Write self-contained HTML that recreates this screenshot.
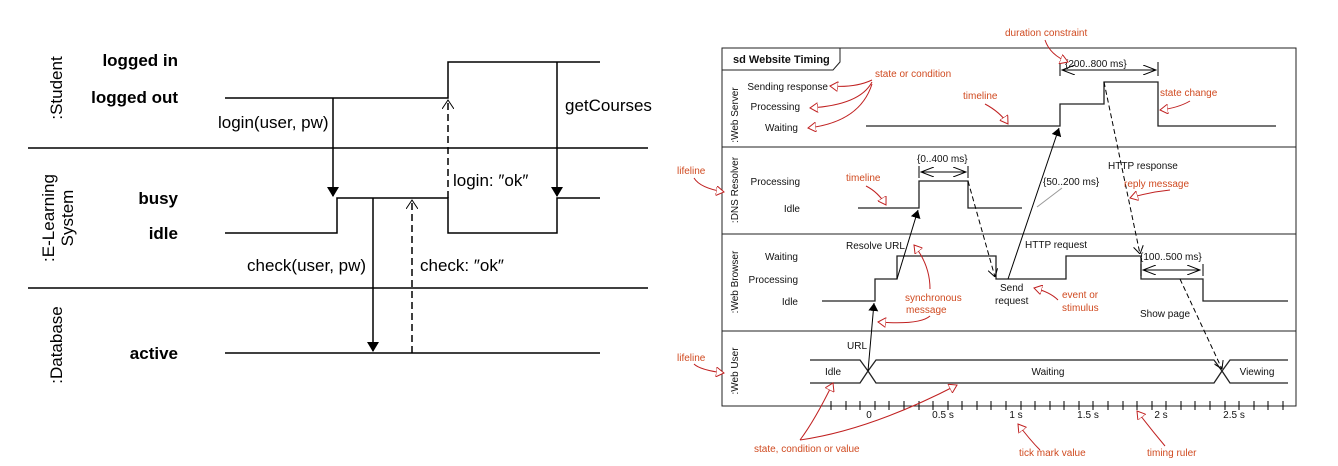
<!DOCTYPE html>
<html><head><meta charset="utf-8"><style>
html,body{margin:0;padding:0;background:#fff;}
svg{display:block;font-family:"Liberation Sans",sans-serif;}
</style></head><body>
<svg width="1338" height="466" viewBox="0 0 1338 466" xmlns="http://www.w3.org/2000/svg">
<defs>
<marker id="fa" markerWidth="10" markerHeight="14" refX="9" refY="7" orient="auto" markerUnits="userSpaceOnUse"><path d="M0,1 L10,7 L0,13 z" fill="#000"/></marker>
<marker id="oa" markerWidth="10" markerHeight="12" refX="9" refY="6" orient="auto" markerUnits="userSpaceOnUse"><path d="M0,0 L9,6 L0,12" fill="none" stroke="#000" stroke-width="1"/></marker>
<marker id="sfa" markerWidth="8" markerHeight="10" refX="8" refY="5" orient="auto" markerUnits="userSpaceOnUse"><path d="M0,0 L8,5 L0,10 z" fill="#000"/></marker>
<marker id="soa" markerWidth="8" markerHeight="10" refX="8" refY="5" orient="auto" markerUnits="userSpaceOnUse"><path d="M0,0 L8,5 L0,10" fill="none" stroke="#000" stroke-width="1"/></marker>
<marker id="ra" markerWidth="9" markerHeight="10" refX="8" refY="5" orient="auto" markerUnits="userSpaceOnUse"><path d="M0,0 L8,5 L0,10 z" fill="#fff" stroke="#c02020" stroke-width="1"/></marker>
<marker id="dim" markerWidth="14" markerHeight="10" refX="13" refY="5" orient="auto-start-reverse" markerUnits="userSpaceOnUse"><path d="M0,0 L13,5 L0,10" fill="none" stroke="#000" stroke-width="1"/></marker>
</defs>

<!-- LEFT DIAGRAM -->
<g stroke="#000" stroke-width="1.5" fill="none">
<line x1="28" y1="148" x2="648" y2="148"/>
<line x1="28" y1="288" x2="648" y2="288"/>
<polyline points="225,98 448,98 448,62 600,62"/>
<polyline points="225,233 337,233 337,198 448,198 448,233 557,233 557,198 600,198"/>
<line x1="225" y1="353" x2="600" y2="353"/>
<line x1="333" y1="98" x2="333" y2="196" marker-end="url(#fa)"/>
<line x1="373" y1="198" x2="373" y2="351" marker-end="url(#fa)"/>
<line x1="557" y1="62" x2="557" y2="196" marker-end="url(#fa)"/>
<line x1="412" y1="353" x2="412" y2="200" stroke-dasharray="7,4" marker-end="url(#oa)"/>
<line x1="448" y1="198" x2="448" y2="100" stroke-dasharray="7,4" marker-end="url(#oa)"/>
</g>
<g font-size="17" fill="#000">
<text transform="translate(62,88) rotate(-90)" text-anchor="middle">:Student</text>
<text transform="translate(54,218) rotate(-90)" text-anchor="middle">:E-Learning</text>
<text transform="translate(73,218) rotate(-90)" text-anchor="middle">System</text>
<text transform="translate(62,345) rotate(-90)" text-anchor="middle">:Database</text>
<g font-weight="bold" text-anchor="end">
<text x="178" y="66">logged in</text>
<text x="178" y="103">logged out</text>
<text x="178" y="204">busy</text>
<text x="178" y="239">idle</text>
<text x="178" y="359">active</text>
</g>
<text x="218" y="128">login(user, pw)</text>
<text x="247" y="271">check(user, pw)</text>
<text x="420" y="271">check: ″ok″</text>
<text x="453" y="186">login: ″ok″</text>
<text x="565" y="111">getCourses</text>
</g>

<!-- RIGHT DIAGRAM -->
<g stroke="#222" stroke-width="1" fill="none">
<rect x="722" y="48" width="574" height="358"/>
<line x1="722" y1="147" x2="1296" y2="147"/>
<line x1="722" y1="234" x2="1296" y2="234"/>
<line x1="722" y1="331" x2="1296" y2="331"/>
<polyline points="722,70 833,70 840,62 840,48"/>
</g>
<g stroke="#222" stroke-width="1.3" fill="none">
<polyline points="866,126 1060,126 1060,104 1104,104 1104,82 1158,82 1158,126 1276,126"/>
<polyline points="858,208 919,208 919,181 968,181 968,208 1022,208"/>
<polyline points="822,301 875,301 875,279 897,279 897,256 996,256 996,279 1066,279 1066,256 1141,256 1141,279 1203,279 1203,301 1288,301"/>
<polyline points="810,360 860,360 868,371 860,383 810,383"/>
<polyline points="868,371 876,360 1214,360 1222,371 1214,383 876,383 868,371"/>
<polyline points="1288,360 1230,360 1222,371 1230,383 1288,383"/>
</g>
<g stroke="#000" stroke-width="1" fill="none">
<line x1="868" y1="371" x2="874" y2="303" marker-end="url(#sfa)"/>
<line x1="897" y1="279" x2="918" y2="210" marker-end="url(#sfa)"/>
<line x1="1008" y1="279" x2="1059" y2="128" marker-end="url(#sfa)"/>
<line x1="968" y1="181" x2="995" y2="277" stroke-dasharray="5,3" marker-end="url(#soa)"/>
<line x1="1104" y1="82" x2="1140" y2="254" stroke-dasharray="5,3" marker-end="url(#soa)"/>
<line x1="1180" y1="279" x2="1222" y2="369" stroke-dasharray="5,3" marker-end="url(#soa)"/>
<line x1="1062" y1="70" x2="1156" y2="70" marker-start="url(#dim)" marker-end="url(#dim)"/>
<line x1="921" y1="172" x2="966" y2="172" marker-start="url(#dim)" marker-end="url(#dim)"/>
<line x1="1143" y1="270" x2="1200" y2="270" marker-start="url(#dim)" marker-end="url(#dim)"/>
<line x1="1060" y1="62" x2="1060" y2="76"/><line x1="1158" y1="62" x2="1158" y2="76"/>
<line x1="919" y1="166" x2="919" y2="178"/><line x1="968" y1="166" x2="968" y2="178"/>
<line x1="1141" y1="264" x2="1141" y2="276"/><line x1="1203" y1="264" x2="1203" y2="276"/>
<line x1="1037" y1="207" x2="1062" y2="188" stroke="#999"/>
</g>
<g stroke="#000" stroke-width="1">
<line x1="831" y1="401" x2="831" y2="410"/><line x1="846" y1="401" x2="846" y2="410"/><line x1="860" y1="401" x2="860" y2="410"/>
<line x1="875" y1="401" x2="875" y2="410"/><line x1="889" y1="401" x2="889" y2="410"/><line x1="904" y1="401" x2="904" y2="410"/>
<line x1="919" y1="401" x2="919" y2="410"/><line x1="933" y1="401" x2="933" y2="410"/><line x1="948" y1="401" x2="948" y2="410"/>
<line x1="962" y1="401" x2="962" y2="410"/><line x1="977" y1="401" x2="977" y2="410"/><line x1="991" y1="401" x2="991" y2="410"/>
<line x1="1006" y1="401" x2="1006" y2="410"/><line x1="1021" y1="401" x2="1021" y2="410"/><line x1="1035" y1="401" x2="1035" y2="410"/>
<line x1="1050" y1="401" x2="1050" y2="410"/><line x1="1064" y1="401" x2="1064" y2="410"/><line x1="1079" y1="401" x2="1079" y2="410"/>
<line x1="1093" y1="401" x2="1093" y2="410"/><line x1="1108" y1="401" x2="1108" y2="410"/><line x1="1123" y1="401" x2="1123" y2="410"/>
<line x1="1137" y1="401" x2="1137" y2="410"/><line x1="1152" y1="401" x2="1152" y2="410"/><line x1="1166" y1="401" x2="1166" y2="410"/>
<line x1="1181" y1="401" x2="1181" y2="410"/><line x1="1195" y1="401" x2="1195" y2="410"/><line x1="1210" y1="401" x2="1210" y2="410"/>
<line x1="1225" y1="401" x2="1225" y2="410"/><line x1="1239" y1="401" x2="1239" y2="410"/><line x1="1254" y1="401" x2="1254" y2="410"/>
<line x1="1268" y1="401" x2="1268" y2="410"/><line x1="1283" y1="401" x2="1283" y2="410"/>
</g>
<g font-size="10" fill="#111">
<text x="733" y="63" font-weight="bold" font-size="11">sd Website Timing</text>
<text transform="translate(738,115) rotate(-90)" text-anchor="middle">:Web Server</text>
<text transform="translate(738,190) rotate(-90)" text-anchor="middle">:DNS Resolver</text>
<text transform="translate(738,282) rotate(-90)" text-anchor="middle">:Web Browser</text>
<text transform="translate(738,371) rotate(-90)" text-anchor="middle">:Web User</text>
<g text-anchor="end">
<text x="828" y="90">Sending response</text>
<text x="800" y="110">Processing</text>
<text x="798" y="131">Waiting</text>
<text x="800" y="185">Processing</text>
<text x="800" y="212">Idle</text>
<text x="798" y="260">Waiting</text>
<text x="798" y="283">Processing</text>
<text x="798" y="305">Idle</text>
</g>
<text x="1065" y="67">{200..800 ms}</text>
<text x="917" y="162">{0..400 ms}</text>
<text x="1043" y="185">{50..200 ms}</text>
<text x="1140" y="260">{100..500 ms}</text>
<text x="1108" y="169">HTTP response</text>
<text x="846" y="249">Resolve URL</text>
<text x="1025" y="248">HTTP request</text>
<text x="1000" y="291">Send</text>
<text x="995" y="304">request</text>
<text x="1140" y="317">Show page</text>
<text x="847" y="349">URL</text>
<text x="833" y="375" text-anchor="middle">Idle</text>
<text x="1048" y="375" text-anchor="middle">Waiting</text>
<text x="1257" y="375" text-anchor="middle">Viewing</text>
<g text-anchor="middle">
<text x="869" y="418">0</text><text x="943" y="418">0.5 s</text><text x="1016" y="418">1 s</text>
<text x="1088" y="418">1.5 s</text><text x="1161" y="418">2 s</text><text x="1234" y="418">2.5 s</text>
</g>
</g>
<g font-size="10" fill="#d04a20">
<text x="1005" y="36">duration constraint</text>
<text x="875" y="77">state or condition</text>
<text x="963" y="99">timeline</text>
<text x="1160" y="96">state change</text>
<text x="677" y="174">lifeline</text>
<text x="846" y="181">timeline</text>
<text x="1124" y="187">reply message</text>
<text x="905" y="301">synchronous</text>
<text x="906" y="313">message</text>
<text x="1062" y="298">event or</text>
<text x="1062" y="311">stimulus</text>
<text x="677" y="361">lifeline</text>
<text x="754" y="452">state, condition or value</text>
<text x="1019" y="456">tick mark value</text>
<text x="1147" y="456">timing ruler</text>
</g>
<g stroke="#c02020" stroke-width="1" fill="none">
<path d="M1045,40 Q1050,55 1068,62" marker-end="url(#ra)"/>
<path d="M872,80 Q855,88 830,86" marker-end="url(#ra)"/>
<path d="M872,82 Q860,105 810,108" marker-end="url(#ra)"/>
<path d="M872,84 Q860,122 808,128" marker-end="url(#ra)"/>
<path d="M985,104 Q1000,112 1008,124" marker-end="url(#ra)"/>
<path d="M1190,101 Q1178,108 1160,110" marker-end="url(#ra)"/>
<path d="M694,178 Q700,188 724,192" marker-end="url(#ra)"/>
<path d="M866,186 Q878,192 886,205" marker-end="url(#ra)"/>
<path d="M1170,190 Q1150,192 1130,198" marker-end="url(#ra)"/>
<path d="M930,289 Q930,265 914,245" marker-end="url(#ra)"/>
<path d="M930,316 Q920,325 878,322" marker-end="url(#ra)"/>
<path d="M1058,300 Q1050,292 1034,288" marker-end="url(#ra)"/>
<path d="M694,364 Q700,370 724,373" marker-end="url(#ra)"/>
<path d="M800,440 Q815,420 833,383" marker-end="url(#ra)"/>
<path d="M800,440 Q870,430 957,385" marker-end="url(#ra)"/>
<path d="M1040,450 Q1030,440 1018,424" marker-end="url(#ra)"/>
<path d="M1165,446 Q1150,428 1137,411" marker-end="url(#ra)"/>
</g>
</svg>
</body></html>
